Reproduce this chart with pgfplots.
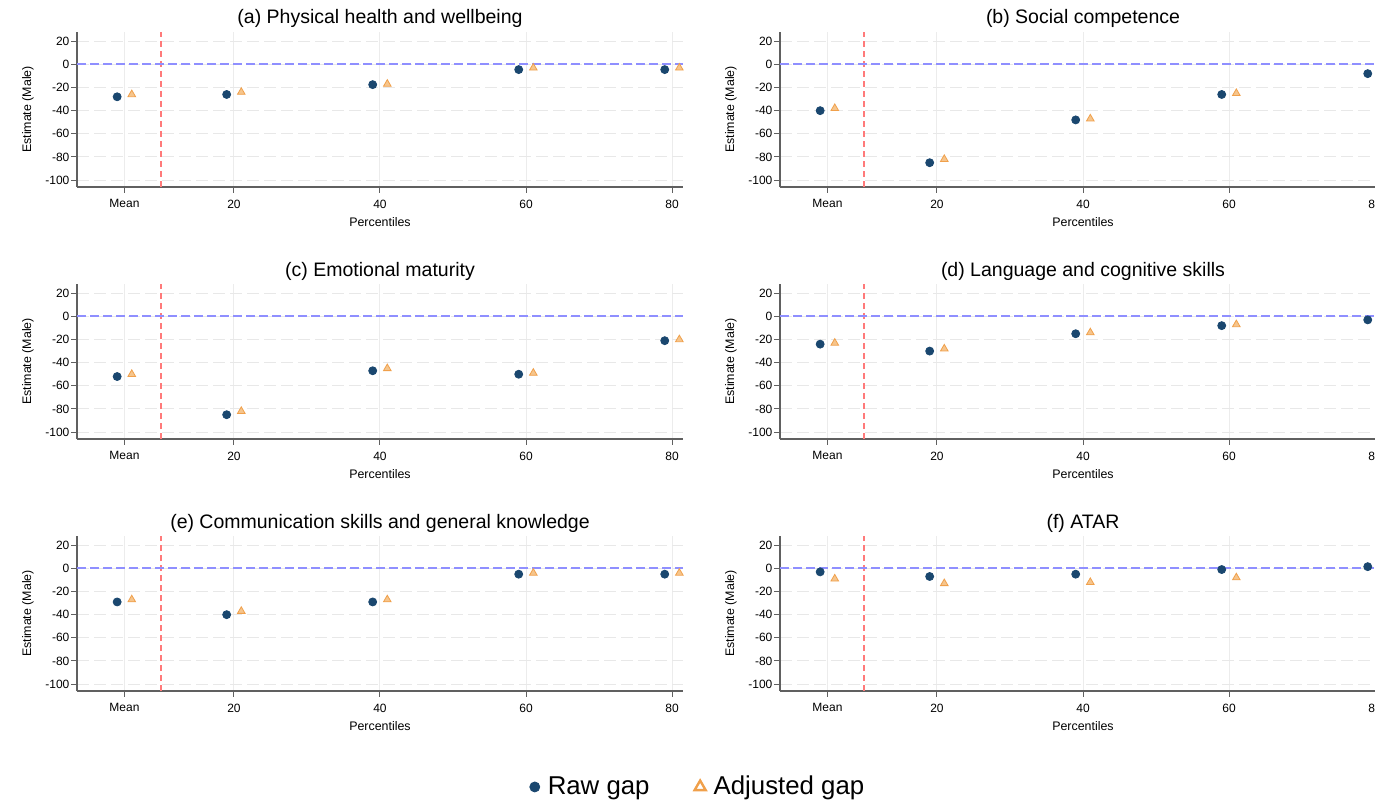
\documentclass[border=0pt]{standalone}
\usepackage{fontspec}
\setmainfont{Liberation Sans}
\usepackage{pgfplots}
\pgfplotsset{compat=1.18}
\definecolor{rawblue}{HTML}{1A476F}
\definecolor{adjorange}{HTML}{F0A04B}
\definecolor{adjfill}{HTML}{F6C58C}
\definecolor{reflred}{HTML}{FF7A7A}
\definecolor{reflblue}{HTML}{8F8FFF}
\pgfplotsset{
 panel/.style={
  scale only axis, width=303pt, height=77.5pt,
  xmin=-1.5, xmax=81.5, ymin=-106, ymax=28,
  axis lines=left,
  axis line style={-, draw=gray!75!black, line width=0.6pt},
  tick align=outside, major tick length=2.8pt,
  tick style={gray!75!black, line width=0.5pt},
  xtick={5,20,40,60,80}, xticklabels={Mean,20,40,60,80},
  ytick={-100,-80,...,20},
  /pgf/number format/assume math mode=true,
  ticklabel style={font=\fontsize{6}{7}\selectfont},
  yticklabel style={inner sep=0.8pt},
  grid=major,
  major grid style={gray!18, line width=0.5pt},
  ymajorgrids, xmajorgrids,
  y grid style={gray!18, line width=0.5pt, dash pattern=on 6pt off 2.5pt},
  x grid style={gray!15, line width=0.5pt},
  xlabel={Percentiles}, ylabel={Estimate (Male)},
  label style={font=\fontsize{6.2}{7}\selectfont},
  xlabel style={at={(axis description cs:0.5,-0.2258)}, anchor=center},
  ylabel style={at={(axis description cs:-0.0809,0.5)}, anchor=center},
  title style={at={(axis description cs:0.5,1)}, anchor=base, yshift=-2pt, font=\fontsize{9.75}{11}\selectfont},
  clip=false,
 },
 rawp/.style={only marks, mark=*, mark size=2pt, color=rawblue, forget plot},
 adjp/.style={only marks, mark=triangle*, mark size=2.2pt, color=adjorange, mark options={draw=adjorange, fill=adjfill}, forget plot},
}
\newcommand{\reflines}{%
 \addplot[reflred, line width=0.8pt, dash pattern=on 3pt off 2pt, forget plot] coordinates {(10,-106) (10,28)};
 \addplot[reflblue, line width=0.9pt, dash pattern=on 4.5pt off 2pt, forget plot] coordinates {(-1.5,0) (81.5,0)};
}
\begin{document}
\begin{tikzpicture}
% (a)
\begin{axis}[panel, at={(38.5pt,-93.5pt)}, anchor=south west, title={(a) Physical health and wellbeing}]
\reflines
\addplot[rawp] coordinates {(4,-28) (19,-26) (39,-17.5) (59,-4.5) (79,-4.5)};
\addplot[adjp] coordinates {(6,-26) (21,-24) (41,-17) (61,-3) (81,-3)};
\end{axis}
% (b)
\begin{axis}[panel, at={(390pt,-93.5pt)}, anchor=south west, title={(b) Social competence}]
\reflines
\addplot[rawp] coordinates {(4,-40) (19,-85) (39,-48) (59,-26) (79,-8)};
\addplot[adjp] coordinates {(6,-38) (21,-82) (41,-47) (61,-25) (81,-7)};
\end{axis}
% (c)
\begin{axis}[panel, at={(38.5pt,-219.5pt)}, anchor=south west, title={(c) Emotional maturity}]
\reflines
\addplot[rawp] coordinates {(4,-52) (19,-85) (39,-47) (59,-50) (79,-21)};
\addplot[adjp] coordinates {(6,-50) (21,-82) (41,-45) (61,-49) (81,-20)};
\end{axis}
% (d)
\begin{axis}[panel, at={(390pt,-219.5pt)}, anchor=south west, title={(d) Language and cognitive skills}]
\reflines
\addplot[rawp] coordinates {(4,-24) (19,-30) (39,-15) (59,-8) (79,-3)};
\addplot[adjp] coordinates {(6,-23) (21,-28) (41,-14) (61,-7) (81,-2)};
\end{axis}
% (e)
\begin{axis}[panel, at={(38.5pt,-345.5pt)}, anchor=south west, title={(e) Communication skills and general knowledge}]
\reflines
\addplot[rawp] coordinates {(4,-29) (19,-40) (39,-29) (59,-5) (79,-5)};
\addplot[adjp] coordinates {(6,-27) (21,-37) (41,-27) (61,-4) (81,-4)};
\end{axis}
% (f)
\begin{axis}[panel, at={(390pt,-345.5pt)}, anchor=south west, title={(f) ATAR},
  legend columns=2,
  legend image code/.code={\draw[#1] plot coordinates {(0pt,0pt)};},
  legend style={at={(axis description cs:-0.1336,-0.619)}, anchor=center, draw=none, fill=none,
    font=\fontsize{12.9}{14}\selectfont,
    /tikz/every odd column/.append style={column sep=2pt},
    /tikz/every even column/.append style={column sep=20.5pt}}]
\reflines
\addplot[rawp] coordinates {(4,-3) (19,-7) (39,-5) (59,-1) (79,1.5)};
\addplot[adjp] coordinates {(6,-9) (21,-13) (41,-12) (61,-8) (81,-6)};
\addlegendimage{only marks, mark=*, mark size=2.5pt, color=rawblue}
\addlegendentry{Raw gap}
\addlegendimage{only marks, mark=triangle, mark size=3.2pt, color=adjorange, mark options={line width=1.2pt}}
\addlegendentry{Adjusted gap}
\end{axis}
\pgfresetboundingbox
\path[use as bounding box] (0,0) rectangle (687.5pt,-401pt);
\end{tikzpicture}
\end{document}
